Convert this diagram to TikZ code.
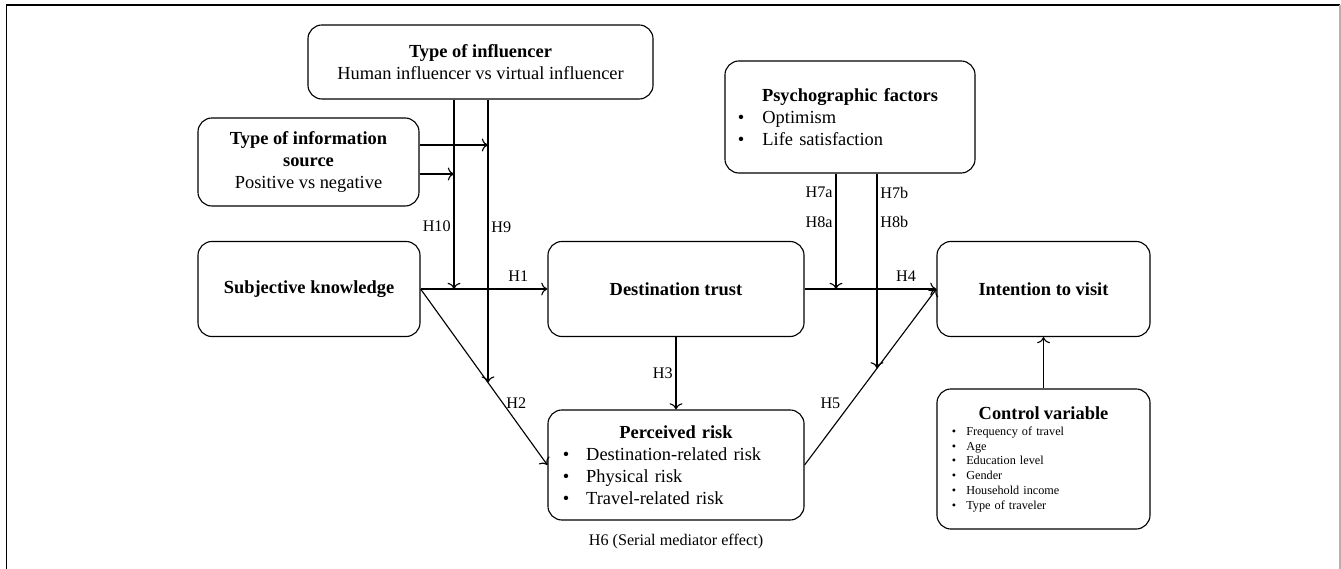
\documentclass[tikz,border=0pt]{standalone}
\usepackage{fontspec}
\setmainfont{Liberation Serif}
\usepackage{tikz}
\usetikzlibrary{positioning,calc,arrows.meta}
\newcommand{\bul}[2][0.45cm]{\makebox[\hsize][l]{\textbullet\hspace{#1}#2}}

\begin{document}
\begin{tikzpicture}[
  x=0.025cm, y=-0.025cm,
  >={To[scale=1.3]},
  factor/.style={rectangle,draw,thick,rounded corners=0.35cm,align=center,font=\fontsize{13.1}{15.7}\selectfont},
  hyp/.style={font=\fontsize{11.5}{13.8}\selectfont,inner sep=2pt},
]
\useasboundingbox (0,0) rectangle (1341,569);

% Frame
\draw[line width=1.1pt] (6.5,569) -- (6.5,5) -- (1340,5);
\draw[line width=0.9pt,gray!60] (1340,5) -- (1340,569);

% Moderators
\node[factor,minimum width=8.625cm,minimum height=1.85cm] (infl) at (480.5,62) {\textbf{Type of influencer}\\Human influencer vs virtual influencer};
\node[factor,minimum width=5.525cm,minimum height=2.2cm] (src) at (308.5,162) {\textbf{Type of information}\\\textbf{source}\\Positive vs negative};
\node[factor,inner xsep=0.325cm,text width=5.6cm,minimum height=2.8cm] (psy) at (850,117) {\textbf{Psychographic factors}\\\bul{Optimism}\\\bul{Life satisfaction}};

% Main model
\node[factor,minimum width=5.55cm,minimum height=2.375cm] (subj) at (309,289) {\textbf{Subjective knowledge}};
\node[factor,minimum width=6.4cm,minimum height=2.375cm] (trust) at (676,289) {\textbf{Destination trust}};
\node[factor,inner xsep=0.375cm,text width=5.65cm,minimum height=2.75cm] (risk) at (676,465) {\textbf{Perceived risk}\\\bul[0.42cm]{Destination-related risk}\\\bul[0.42cm]{Physical risk}\\\bul[0.42cm]{Travel-related risk}};
\node[factor,minimum width=5.325cm,minimum height=2.375cm] (intent) at (1043.5,289) {\textbf{Intention to visit}};
\node[factor,inner xsep=0.375cm,text width=4.575cm,minimum height=3.5cm,font=\fontsize{8.7}{10.5}\selectfont] (ctrl) at (1043.5,459) {{\fontsize{13.1}{15.7}\selectfont\textbf{Control variable}}\\[1pt]\bul[0.25cm]{Frequency of travel}\\\bul[0.25cm]{Age}\\\bul[0.25cm]{Education level}\\\bul[0.25cm]{Gender}\\\bul[0.25cm]{Household income}\\\bul[0.25cm]{Type of traveler}};
\node[hyp,below=0.25cm of risk] (h6) {H6 (Serial mediator effect)};

% Direct paths
\draw[->,thick] (subj.east) -- node[hyp,pos=.77,above=3pt]{H1} (trust.west);
\draw[->,thick] (subj.east) -- node[hyp,pos=.65,right]{H2} (risk.west);
\draw[->,thick] (trust) -- node[hyp,left]{H3} (risk);
\draw[->,thick] (trust.east) -- node[hyp,pos=.77,above=3pt]{H4} (intent.west);
\draw[->,thick] (risk.east) -- node[hyp,pos=.35,left=5pt]{H5} (intent.west);
\draw[->,thick] (ctrl) -- (intent);

% Moderating paths
\coordinate (m10) at (454,289);
\coordinate (m9) at (intersection of subj.east--risk.west and 488,0--488,600);
\coordinate (m7a) at (836,289);
\coordinate (m7b) at (intersection of risk.east--intent.west and 877,0--877,600);
\coordinate (s9) at (488,145);
\coordinate (s10) at (454,174);

\draw[->,thick] (infl.south -| m10) -- node[hyp,pos=.67,left]{H10} (m10);
\draw[->,thick] (infl.south -| m9) -- node[hyp,pos=.45,right]{H9} (m9);
\draw[->,thick] (src.east |- s9) -- (s9);
\draw[->,thick] (src.east |- s10) -- (s10);
\draw[->,thick] (psy.south -| m7a) -- node[hyp,pos=.16,left]{H7a} node[hyp,pos=.42,left]{H8a} (m7a);
\draw[->,thick] (psy.south -| m7b) -- node[hyp,pos=.1,right]{H7b} node[hyp,pos=.25,right]{H8b} (m7b);

\end{tikzpicture}
\end{document}
